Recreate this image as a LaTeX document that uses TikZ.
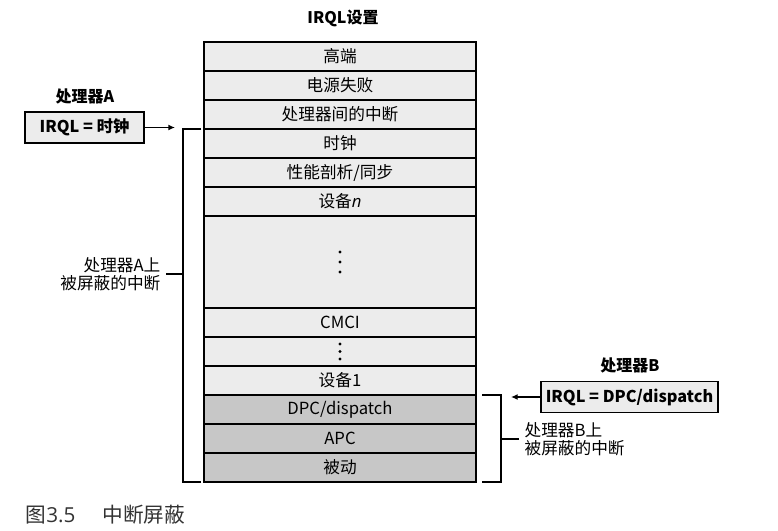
\documentclass[tikz,border=0pt]{standalone}
\usepackage{fontspec}
\setmainfont{Noto Sans CJK SC}
\newfontfamily\latinfont{Open Sans}
\usetikzlibrary{positioning,arrows.meta}

\begin{document}
\begin{tikzpicture}[
    x=0.75pt, y=-0.75pt,
    level/.style={draw, line width=1.1pt, minimum width=204pt, minimum height=21.75pt,
        inner sep=0pt, outer sep=0pt, fill=gray!15, font=\fontsize{12.5}{14}\selectfont},
    low/.style={level, fill=black!22},
    gap/.style={level, minimum height=69pt},
    irql/.style={draw, line width=1.1pt, fill=gray!15, inner sep=0pt, minimum height=23pt,
        font=\fontsize{12.2}{14}\selectfont\bfseries},
    title/.style={font=\fontsize{12}{14}\selectfont\bfseries},
    note/.style={font=\fontsize{12.5}{13.5}\selectfont, inner sep=1pt},
    arrow/.style={-{Latex[length=5pt,width=4.5pt]}, line width=1pt},
    bracket/.style={line width=1.1pt},
    dot/.style={fill=black}
]
\useasboundingbox (0,0) rectangle (778,531);

% IRQL stack
\node[title] (head) at (343,18) {IRQL设置};
\node[level] (r1) at (340,56.5) {高端};
\node[level, below=0pt of r1] (r2) {电源失败};
\node[level, below=0pt of r2] (r3) {处理器间的中断};
\node[level, below=0pt of r3] (r4) {时钟};
\node[level, below=0pt of r4] (r5) {性能剖析/同步};
\node[level, below=0pt of r5] (r6) {设备{\latinfont\itshape n}};
\node[gap, below=0pt of r6] (r7) {};
\node[level, below=0pt of r7] (r8) {CMCI};
\node[level, below=0pt of r8] (r9) {};
\node[level, below=0pt of r9] (r10) {设备1};
\node[low, below=0pt of r10] (r11) {DPC/dispatch};
\node[low, below=0pt of r11] (r12) {APC};
\node[low, below=0pt of r12] (r13) {被动};

% vertical dots
\foreach \dy in {-10,0,10}
    \fill[dot] ([yshift=\dy*0.75pt]r7.center) circle (1.2pt);
\foreach \dy in {-7.5,0,7.5}
    \fill[dot] ([yshift=\dy*0.75pt]r9.center) circle (1.2pt);

% Processor A
\node[title] (procA) at (85,96) {处理器A};
\node[irql, minimum width=89pt] (irqlA) at (84.5,127.5) {IRQL = 时钟};
\coordinate (tipA) at (175,127.5);
\draw[arrow] (irqlA.east) -- (tipA);
\draw[bracket, shorten <=2pt, shorten >=2pt] (r4.north west) -- ++(-21,0) |- (r13.south west);
\node[note, anchor=east, align=right] (maskA) at (162,274) {处理器A上\\被屏蔽的中断};
\coordinate (tickA) at (183,274);
\draw[bracket, shorten <=3pt] (maskA.east) -- (tickA);

% Processor B
\node[title] (procB) at (630,365) {处理器B};
\node[irql, minimum width=133pt] (irqlB) at (629.5,397) {IRQL = DPC/dispatch};
\coordinate (tipB) at (511,397);
\draw[arrow] (irqlB.west) -- (tipB);
\draw[bracket, shorten <=4.5pt, shorten >=4.5pt] (r11.north east) -- ++(25,0) |- (r13.south east);
\node[note, anchor=west, align=left] (maskB) at (523,439) {处理器B上\\被屏蔽的中断};
\coordinate (tickB) at (501,439);
\draw[bracket, shorten <=3pt] (maskB.west) -- (tickB);

% Caption
\node[anchor=west, text=black!80, font=\fontsize{15.5}{18}\selectfont] (caption) at (21,515) {图{\latinfont 3.5}\hspace{1.3em}中断屏蔽};

\end{tikzpicture}
\end{document}
